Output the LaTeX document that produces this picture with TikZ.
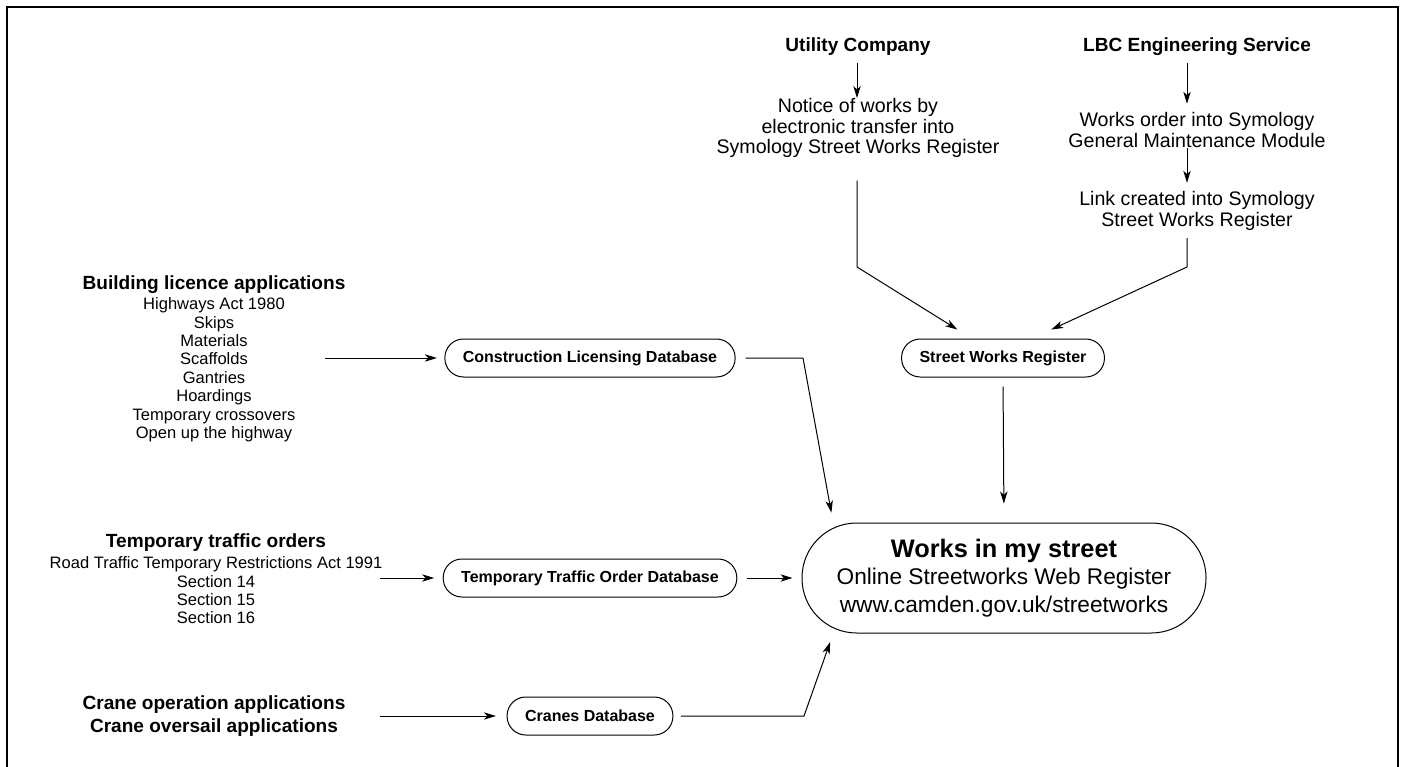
\documentclass[tikz,border=0pt]{standalone}
\usepackage{fontspec}
\setmainfont{Liberation Sans}
\usepackage{tikz}
\usetikzlibrary{positioning, arrows.meta}

\newcommand\hdfont{\fontsize{14.3pt}{16pt}\selectfont\bfseries}
\newcommand\topfont{\fontsize{14.7pt}{15.4pt}\selectfont}
\newcommand\listfont{\fontsize{12.4pt}{13.8pt}\selectfont}
\newcommand\dbfont{\fontsize{12pt}{14pt}\selectfont\bfseries}
\newcommand\webhdfont{\fontsize{19pt}{20.6pt}\selectfont\bfseries}
\newcommand\webfont{\fontsize{17pt}{20.6pt}\selectfont}

\begin{document}
\begin{tikzpicture}[x=0.75pt, y=-0.75pt,
    >={Stealth[length=9pt, width=5.5pt, inset=2.5pt]},
    every node/.style={inner sep=0pt},
    arr/.style={->, line width=0.75pt},
    dbbox/.style={draw, line width=0.75pt, rounded corners=14pt,
        minimum height=28.5pt, inner xsep=13.5pt, font=\dbfont},
    srcbox/.style={align=center, font=\topfont},
    listbox/.style={align=center, font=\listfont}]
\useasboundingbox (0,0) rectangle (1404,767);
\draw[line width=1.5pt] (7,767) -- (7,7) -- (1398,7) -- (1398,767);

% sources at the top
\node[font=\hdfont] (utility) at (858,47) {Utility Company};
\node[srcbox] (notice) at (858,128) {Notice of works by\\electronic transfer into\\Symology Street Works Register};
\node[font=\hdfont] (lbc) at (1197,47) {LBC Engineering Service};
\node[srcbox] (works) at (1197,130) {Works order into Symology\\General Maintenance Module};
\node[srcbox] (link) at (1197,211) {Link created into Symology\\Street Works Register};
\coordinate (ubend) at (857,267);
\coordinate (lbend) at (1187,267);

% applications on the left
\node[listbox] (build) at (214,359) {{\hdfont Building licence applications}\\[1.2pt]
    Highways Act 1980\\Skips\\Materials\\Scaffolds\\Gantries\\Hoardings\\Temporary crossovers\\Open up the highway};
\node[listbox] (tto) at (216,579) {{\hdfont Temporary traffic orders}\\[2pt]
    Road Traffic Temporary Restrictions Act 1991\\Section 14\\Section 15\\Section 16};
\node[align=center, font=\fontsize{14.3pt}{17pt}\selectfont\bfseries] (crane) at (214,716) {Crane operation applications\\Crane oversail applications};
\coordinate (buildout) at (325,358);
\coordinate (ttoout) at (380,578);
\coordinate (craneout) at (380,716);

% databases
\node[dbbox] (cons) at (590,358) {Construction Licensing Database};
\node[dbbox] (ttodb) at (590,578) {Temporary Traffic Order Database};
\node[dbbox] (cranedb) at (590,716) {Cranes Database};
\node[dbbox] (street) at (1003,358) {Street Works Register};
\coordinate (cbend) at (803,358);
\coordinate (kbend) at (804,716);

\node[draw, line width=0.75pt, rounded corners=41pt, minimum width=303pt,
    minimum height=82.5pt, align=center, font=\webfont] (web) at (1004,578)
    {{\webhdfont Works in my street}\\Online Streetworks Web Register\\www.camden.gov.uk/streetworks};

% connectors
\draw[arr, shorten <=5pt] (utility.south -| ubend) -- (notice.north -| ubend);
\draw[arr, shorten <=17pt, shorten >=12.75pt] (notice.south -| ubend) -- (ubend) -- (street.148);
\draw[arr, shorten <=5pt, shorten >=6.4pt] (lbc.south -| lbend) -- (works.north -| lbend);
\draw[arr, shorten >=6.4pt] (works.south -| lbend) -- (link.north -| lbend);
\draw[arr, shorten <=5.6pt, shorten >=16pt] (link.south -| lbend) -- (lbend) -- (street.34.7);

\draw[arr, shorten >=5.6pt] (buildout) -- (cons);
\draw[arr, shorten >=6.4pt] (ttoout) -- (ttodb);
\draw[arr, shorten >=8pt] (craneout) -- (cranedb);

\draw[arr, shorten <=7.5pt, shorten >=7.5pt] (cons.east) -- (cbend) -- (web.162.6);
\draw[arr, shorten <=7.5pt, shorten >=6.75pt] (ttodb.east) -- (web.west);
\draw[arr, shorten <=5.6pt, shorten >=6.75pt] (cranedb.east) -- (kbend) -- (web.198);
\draw[arr, shorten <=6.75pt, shorten >=14.25pt] (street.south) -- (web.north);
\end{tikzpicture}
\end{document}
